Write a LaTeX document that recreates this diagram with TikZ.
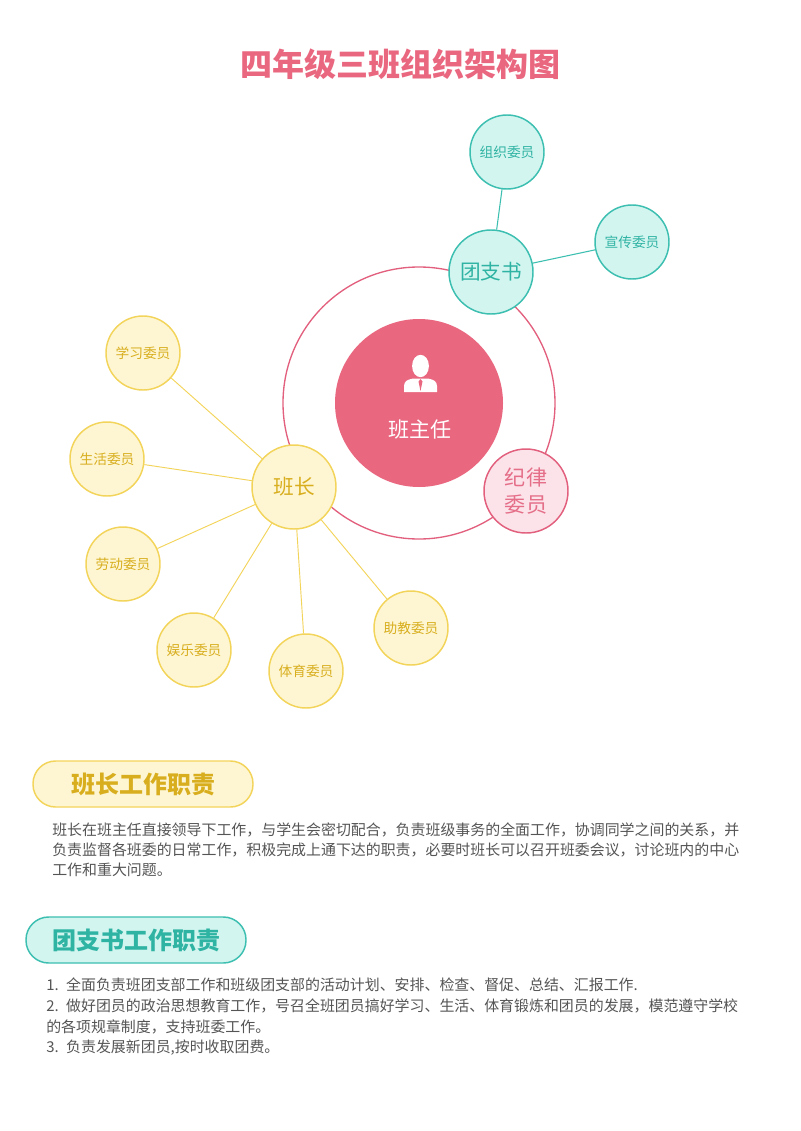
\documentclass[tikz,border=0pt]{standalone}
\usepackage{fontspec}
\setmainfont{Noto Sans CJK SC}
\usetikzlibrary{positioning}
\definecolor{zhupink}{HTML}{EA6780}
\definecolor{ringpink}{HTML}{E2607D}
\definecolor{jilvfill}{HTML}{FCE3EA}
\definecolor{jilvtext}{HTML}{E56F89}
\definecolor{qingline}{HTML}{3CBFB0}
\definecolor{qingfill}{HTML}{D3F5F0}
\definecolor{qingtext}{HTML}{2FB3A3}
\definecolor{huangline}{HTML}{F3D45A}
\definecolor{huangfill}{HTML}{FEF6D3}
\definecolor{huangtext}{HTML}{D8AE1E}
\definecolor{wenzi}{HTML}{555555}

\tikzset{
  ganbu/.style={circle, line width=1.1pt, inner sep=0pt, minimum size=63pt, font=\fontsize{15.5}{18}\selectfont},
  weiyuan/.style={circle, line width=1.1pt, inner sep=0pt, minimum size=55.5pt, font=\fontsize{10.3}{12}\selectfont},
  huang/.style={draw=huangline, fill=huangfill, text=huangtext},
  qing/.style={draw=qingline, fill=qingfill, text=qingtext},
  huanglink/.style={draw=huangline, line width=0.7pt},
  qinglink/.style={draw=qingline, line width=0.8pt},
  biaotou/.style={rounded corners=17pt, line width=1.1pt, minimum width=165pt, minimum height=34.5pt, inner sep=0pt, font=\fontsize{18}{20}\bfseries\selectfont},
  hang/.style={anchor=west, inner sep=0pt, text=wenzi, font=\fontsize{11.2}{14}\selectfont}
}

\begin{document}
\begin{tikzpicture}[x=0.75pt, y=-0.75pt]
  \useasboundingbox (0,0) rectangle (800,1131);
  \fill[white] (0,0) rectangle (800,1131);

  \node[text=zhupink, font=\fontsize{24}{28}\bfseries\selectfont] (biaoti) at (400,64) {四年级三班组织架构图};

  % ring round the head teacher
  \draw[ringpink, line width=1pt] (419,403) circle [radius=102pt];
  \node[circle, fill=zhupink, minimum size=126pt, inner sep=0pt] (zhuren) at (419,403) {};
  \node[text=white, font=\fontsize{15.8}{18}\selectfont] (zhurentext) at (420,430) {班主任};
  % person icon
  \fill[white] (420.5,366) ellipse [x radius=6.3pt, y radius=8.4pt];
  \fill[white] (404,392) -- (404,386) .. controls (404,381) and (408,379.5) .. (413,378.5) -- (428,378.5) .. controls (433,379.5) and (437,381) .. (437,386) -- (437,392) -- cycle;
  \fill[zhupink] (420.5,379) -- (418.5,381.5) -- (420.5,391) -- (422.5,381.5) -- cycle;

  \node[ganbu, draw=ringpink, fill=jilvfill, text=jilvtext, align=center, font=\fontsize{15.8}{20}\selectfont] (jilv) at (526,491) {纪律\\委员};

  % youth league secretary
  \node[ganbu, qing] (tuanzhishu) at (491,272) {团支书};
  \node[weiyuan, qing] (zuzhi) at (507,152) {组织委员};
  \node[weiyuan, qing] (xuanchuan) at (632,242) {宣传委员};
  \draw[qinglink] (tuanzhishu) -- (zuzhi);
  \draw[qinglink] (tuanzhishu) -- (xuanchuan);

  % class monitor
  \node[ganbu, huang] (banzhang) at (294,487) {班长};
  \node[weiyuan, huang] (xuexi) at (143,353) {学习委员};
  \node[weiyuan, huang] (shenghuo) at (107,459) {生活委员};
  \node[weiyuan, huang] (laodong) at (123,564) {劳动委员};
  \node[weiyuan, huang] (yule) at (194,650) {娱乐委员};
  \node[weiyuan, huang] (tiyu) at (306,671) {体育委员};
  \node[weiyuan, huang] (zhujiao) at (411,628) {助教委员};
  \draw[huanglink] (banzhang) -- (xuexi);
  \draw[huanglink] (banzhang) -- (shenghuo);
  \draw[huanglink] (banzhang) -- (laodong);
  \draw[huanglink] (banzhang) -- (yule);
  \draw[huanglink] (banzhang) -- (tiyu);
  \draw[huanglink] (banzhang) -- (zhujiao);

  % duties
  \node[biaotou, huang] (banzhangzhize) at (143,784) {班长工作职责};
  \node[hang] (bz1) at (52,830) {班长在班主任直接领导下工作，与学生会密切配合，负责班级事务的全面工作，协调同学之间的关系，并};
  \node[hang] (bz2) at (52,850) {负责监督各班委的日常工作，积极完成上通下达的职责，必要时班长可以召开班委会议，讨论班内的中心};
  \node[hang] (bz3) at (52,870) {工作和重大问题。};

  \node[biaotou, qing] (tuanzhize) at (136,940) {团支书工作职责};
  \node[hang] (tz1) at (46,985) {1.\hspace{0.5em}全面负责班团支部工作和班级团支部的活动计划、安排、检查、督促、总结、汇报工作.};
  \node[hang] (tz2) at (46,1006) {2.\hspace{0.5em}做好团员的政治思想教育工作，号召全班团员搞好学习、生活、体育锻炼和团员的发展，模范遵守学校};
  \node[hang] (tz3) at (46,1027) {的各项规章制度，支持班委工作。};
  \node[hang] (tz4) at (46,1048) {3.\hspace{0.5em}负责发展新团员,按时收取团费。};
\end{tikzpicture}
\end{document}
